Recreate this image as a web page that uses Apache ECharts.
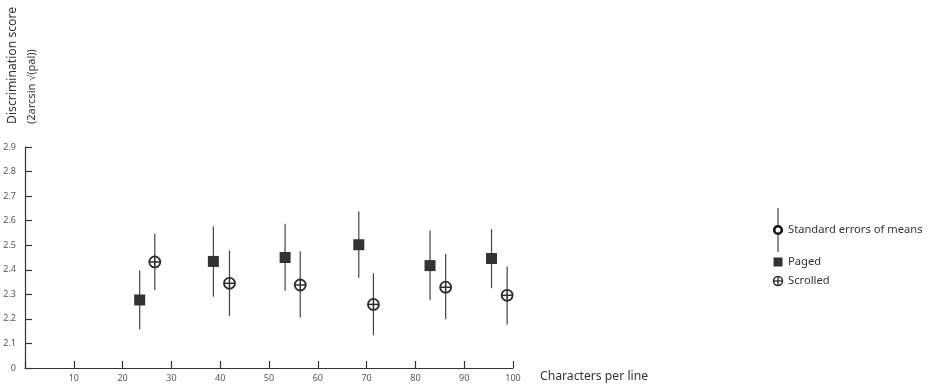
<!DOCTYPE html>
<html>
<head>
<meta charset="utf-8">
<script src="https://cdn.jsdelivr.net/npm/echarts@6/dist/echarts.min.js"></script>
<style>
  html, body { margin: 0; padding: 0; background: #fff; }
  #chart { width: 930px; height: 386px; }
</style>
</head>
<body>
<div id="chart"></div>
<script>
// characters per line (x), mean discrimination score, error bar low / high
const pagedX = [23.5, 38.6, 53.3, 68.4, 83.0, 95.6]
const pagedY = [2.277, 2.434, 2.45, 2.502, 2.417, 2.446]
const pagedLow = [2.158, 2.29, 2.315, 2.368, 2.277, 2.325]
const pagedHigh = [2.397, 2.576, 2.587, 2.637, 2.56, 2.566]

const scrolledX = [26.6, 41.9, 56.4, 71.4, 86.2, 98.8]
const scrolledY = [2.432, 2.345, 2.338, 2.259, 2.329, 2.296]
const scrolledLow = [2.318, 2.212, 2.206, 2.133, 2.199, 2.177]
const scrolledHigh = [2.547, 2.479, 2.475, 2.386, 2.464, 2.413]

const font = 'Noto Sans'
const ink = '#2b2b2b'

let myChart = echarts.init(document.getElementById('chart'))

const errData = pagedX.map((x, i) => [x, pagedLow[i], pagedHigh[i]])
  .concat(scrolledX.map((x, i) => [x, scrolledLow[i], scrolledHigh[i]]))

function renderErr(params, api) {
  const a = api.coord([api.value(0), api.value(1)])
  const b = api.coord([api.value(0), api.value(2)])
  return {
    type: 'line',
    shape: { x1: a[0], y1: a[1], x2: b[0], y2: b[1] },
    style: { stroke: '#444', lineWidth: 1.2 }
  }
}

function renderPlus(params, api) {
  const p = api.coord([api.value(0), api.value(1)])
  const r = 5.5
  return {
    type: 'group',
    children: [
      { type: 'circle', shape: { cx: p[0], cy: p[1], r: r }, style: { fill: '#fff', stroke: ink, lineWidth: 1.8 } },
      { type: 'line', shape: { x1: p[0] - r, y1: p[1], x2: p[0] + r, y2: p[1] }, style: { stroke: ink, lineWidth: 1.5 } },
      { type: 'line', shape: { x1: p[0], y1: p[1] - r, x2: p[0], y2: p[1] + r }, style: { stroke: ink, lineWidth: 1.5 } }
    ]
  }
}

myChart.setOption({
  animation: false,
  textStyle: { fontFamily: font },
  grid: { left: 25, right: 417, top: 147, bottom: 18, containLabel: false },
  xAxis: {
    type: 'value',
    min: 0,
    max: 100,
    interval: 10,
    name: 'Characters per line',
    nameLocation: 'end',
    nameGap: 27,
    nameTextStyle: { fontSize: 12.2, color: '#333', verticalAlign: 'top', padding: [3, 0, 0, 0] },
    axisLine: { lineStyle: { color: '#333', width: 1.2 } },
    axisTick: { inside: true, length: 7, lineStyle: { color: '#333', width: 1.2 } },
    axisLabel: { fontSize: 9, color: '#555', margin: 6, formatter: v => (v === 0 ? '' : v) },
    splitLine: { show: false }
  },
  yAxis: {
    type: 'value',
    min: 2.0,
    max: 2.9,
    interval: 0.1,
    axisLine: { show: true, lineStyle: { color: '#333', width: 1.2 } },
    axisTick: { show: true, inside: true, length: 7, lineStyle: { color: '#333', width: 1.2 } },
    axisLabel: {
      fontSize: 9,
      color: '#555',
      margin: 9,
      formatter: v => (Math.abs(v - 2) < 1e-6 ? '0' : v.toFixed(1))
    },
    splitLine: { show: false }
  },
  graphic: [
    {
      type: 'text', x: 13, y: 124, rotation: Math.PI / 2,
      style: { text: 'Discrimination score', fontFamily: font, fontSize: 12.2, fill: '#333', align: 'left', verticalAlign: 'middle' }
    },
    {
      type: 'text', x: 32, y: 124, rotation: Math.PI / 2,
      style: { text: '(2arcsin \u221a(pal))', fontFamily: font, fontSize: 11, fill: '#333', align: 'left', verticalAlign: 'middle' }
    },
    // legend
    { type: 'line', shape: { x1: 778, y1: 208, x2: 778, y2: 252 }, style: { stroke: '#444', lineWidth: 1.2 } },
    { type: 'circle', shape: { cx: 778, cy: 230, r: 3.8 }, style: { fill: '#fff', stroke: '#111', lineWidth: 2.6 } },
    {
      type: 'text', x: 788, y: 230,
      style: { text: 'Standard errors of means', fontFamily: font, fontSize: 11.2, fill: '#333', verticalAlign: 'middle' }
    },
    { type: 'rect', shape: { x: 773.5, y: 257.5, width: 9, height: 9 }, style: { fill: '#333' } },
    {
      type: 'text', x: 788, y: 262,
      style: { text: 'Paged', fontFamily: font, fontSize: 11.2, fill: '#333', verticalAlign: 'middle' }
    },
    { type: 'circle', shape: { cx: 778, cy: 281, r: 4.5 }, style: { fill: '#fff', stroke: ink, lineWidth: 1.5 } },
    { type: 'line', shape: { x1: 773.5, y1: 281, x2: 782.5, y2: 281 }, style: { stroke: ink, lineWidth: 1.3 } },
    { type: 'line', shape: { x1: 778, y1: 276.5, x2: 778, y2: 285.5 }, style: { stroke: ink, lineWidth: 1.3 } },
    {
      type: 'text', x: 788, y: 281,
      style: { text: 'Scrolled', fontFamily: font, fontSize: 11.2, fill: '#333', verticalAlign: 'middle' }
    }
  ],
  series: [
    {
      name: 'Standard errors of means',
      type: 'custom',
      renderItem: renderErr,
      data: errData,
      z: 1
    },
    {
      name: 'Paged',
      type: 'scatter',
      symbol: 'rect',
      symbolSize: 11,
      itemStyle: { color: '#333', opacity: 1 },
      data: pagedX.map((x, i) => [x, pagedY[i]]),
      z: 3
    },
    {
      name: 'Scrolled',
      type: 'custom',
      renderItem: renderPlus,
      data: scrolledX.map((x, i) => [x, scrolledY[i]]),
      z: 3
    }
  ]
})
</script>
</body>
</html>
